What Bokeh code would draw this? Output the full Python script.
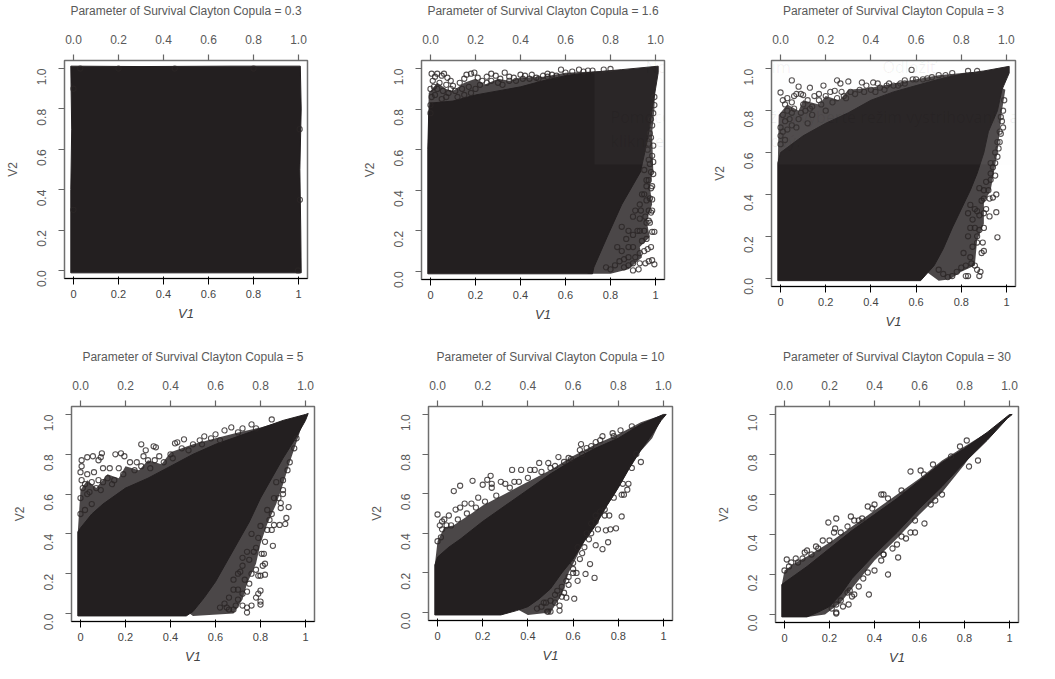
from bokeh.plotting import figure
from bokeh.layouts import column, row
from bokeh.models import FixedTicker, NumeralTickFormatter, BoxAnnotation, Label, LinearAxis
from bokeh.embed import file_html
from bokeh.resources import INLINE
import math

params = ["0.3", "1.6", "3", "5", "10", "30"]
tick_values = [0.0, 0.2, 0.4, 0.6, 0.8, 1.0]
x_name = "V1"
y_name = "V2"

# ---- theta = 0.3
solid1_v1 = [-0.012, -0.012, -0.008, -0.012, 0.3, 0.7, 1.008, 1.012, 1.006, 1.01, 1.012, 0.7, 0.3]
solid1_v2 = [-0.012, 0.4, 0.7, 1.012, 1.01, 1.012, 1.012, 0.8, 0.5, 0.2, -0.012, -0.012, -0.012]
haze1_v1 = []
haze1_v2 = []
pts1_v1 = [0.03, 0.2, 0.45, 0.8, 1.005, 1.006, 0.998, 0.0, 0.0]
pts1_v2 = [1.0, 1.0, 1.0, 1.0, 0.7, 0.35, 0.0, 0.3, 0.9]

# ---- theta = 1.6
solid2_v1 = [-0.012, -0.012, -0.008, 0.0, 0.1, 0.2, 0.3, 0.4, 0.5, 0.6, 0.7, 0.85, 1.012, 1.012, 1.0, 0.985, 0.972, 0.955, 0.933, 0.85, 0.785, 0.726, 0.72]
solid2_v2 = [-0.012, 0.6, 0.78, 0.83, 0.84, 0.87, 0.89, 0.91, 0.94, 0.965, 0.98, 0.995, 1.012, 0.98, 0.9, 0.8, 0.7, 0.6, 0.49, 0.33, 0.17, 0.02, -0.012]
haze2_v1 = [-0.012, -0.008, 0.03, 0.07, 0.1, 0.15, 0.2, 0.24, 0.3, 0.35, 0.4, 0.5, 0.6, 0.7, 0.85, 1.0, 0.995, 0.985, 0.99, 0.975, 0.985, 0.96, 0.975, 0.93, 0.94, 0.88, 0.8, 0.7]
haze2_v2 = [0.6, 0.88, 0.93, 0.9, 0.89, 0.93, 0.95, 0.92, 0.95, 0.94, 0.955, 0.96, 0.98, 0.985, 0.995, 0.95, 0.8, 0.68, 0.5, 0.42, 0.33, 0.25, 0.17, 0.12, 0.07, 0.01, -0.012, -0.012]
pts2_v1 = [0.005, 0.02, 0.03, 0.05, 0.06, 0.075, 0.09, 0.01, 0.04, 0.07, 0.1, 0.13, 0.15, 0.16, 0.18, 0.195, 0.21, 0.23, 0.25, 0.27, 0.29, 0.31, 0.33, 0.35, 0.37, 0.4, 0.42, 0.45, 0.47, 0.5, 0.52, 0.54, 0.58, 0.6, 0.63, 0.66, 0.68, 0.7, 0.72, 0.77, 0.8,
           0.995, 0.985, 0.975, 0.99, 0.985, 0.99, 0.975, 0.98, 0.99, 0.97, 0.98, 0.96, 0.985, 0.975, 0.985, 0.94, 0.96, 0.97, 0.985, 0.98, 0.955, 0.935, 0.93, 0.96, 0.975, 0.985, 0.995, 0.95, 0.92, 0.96, 0.94, 0.98, 0.965, 0.95, 0.93, 0.91, 0.97, 0.985, 0.995, 0.955, 0.93, 0.9, 0.925, 0.88, 0.86, 0.9, 0.87,
           0.0, 0.015, 0.03, 0.055, 0.08, 0.09, 0.11, 0.14, 0.17, 0.2, 0.22, 0.25, 0.27, 0.3, 0.32, 0.35, 0.38, 0.41, 0.44, 0.48, 0.52, 0.56, 0.005, 0.02, 0.05, 0.07, 0.12, 0.15, 0.18, 0.0, 0.0,
           0.93, 0.9, 0.88, 0.86, 0.84, 0.82, 0.8, 0.78, 0.85, 0.83, 0.88, 0.85, 0.9, 0.93, 0.95, 0.96, 0.95, 0.97, 0.965, 0.97, 0.98, 0.98, 0.99, 0.995, 0.97, 0.91, 0.9, 0.88]
pts2_v2 = [0.975, 0.96, 0.975, 0.965, 0.975, 0.955, 0.94, 0.94, 0.93, 0.92, 0.915, 0.93, 0.95, 0.97, 0.975, 0.98, 0.955, 0.94, 0.96, 0.975, 0.965, 0.95, 0.98, 0.96, 0.955, 0.97, 0.965, 0.97, 0.955, 0.965, 0.975, 0.97, 0.995, 0.98, 0.985, 0.995, 0.985, 0.99, 0.99, 0.995, 0.998,
           0.86, 0.72, 0.68, 0.62, 0.57, 0.54, 0.53, 0.49, 0.48, 0.45, 0.41, 0.42, 0.42, 0.36, 0.355, 0.38, 0.35, 0.3, 0.3, 0.29, 0.27, 0.3, 0.26, 0.24, 0.24, 0.195, 0.195, 0.2, 0.2, 0.16, 0.15, 0.12, 0.11, 0.1, 0.09, 0.07, 0.05, 0.055, 0.035, 0.04, 0.04, 0.005, 0.01, 0.03, 0.06, 0.12, 0.16,
           0.9, 0.91, 0.9, 0.89, 0.88, 0.9, 0.89, 0.9, 0.91, 0.9, 0.92, 0.93, 0.94, 0.93, 0.92, 0.94, 0.94, 0.95, 0.95, 0.95, 0.96, 0.965, 0.86, 0.87, 0.85, 0.86, 0.86, 0.87, 0.88, 0.82, 0.78,
           0.2, 0.18, 0.12, 0.02, 0.05, 0.03, 0.01, 0.02, 0.1, 0.12, 0.2, 0.22, 0.27, 0.33, 0.38, 0.45, 0.5, 0.55, 0.6, 0.63, 0.66, 0.75, 0.78, 0.82, 0.25, 0.3, 0.04, 0.07]

# ---- theta = 3
solid3_v1 = [-0.012, -0.012, 0.0, 0.1, 0.2, 0.3, 0.4, 0.5, 0.6, 0.7, 0.8, 0.9, 1.012, 1.012, 0.98, 0.96, 0.92, 0.9, 0.87, 0.84, 0.8, 0.76, 0.72, 0.68, 0.62]
solid3_v2 = [-0.012, 0.55, 0.6, 0.68, 0.74, 0.79, 0.85, 0.89, 0.92, 0.95, 0.975, 0.99, 1.012, 0.98, 0.9, 0.8, 0.7, 0.6, 0.5, 0.42, 0.33, 0.24, 0.14, 0.06, -0.012]
haze3_v1 = [-0.012, -0.008, 0.03, 0.08, 0.1, 0.17, 0.2, 0.26, 0.3, 0.4, 0.5, 0.6, 0.7, 0.85, 0.995, 0.98, 0.97, 0.96, 0.94, 0.93, 0.9, 0.9, 0.87, 0.86, 0.8, 0.75, 0.7]
haze3_v2 = [0.55, 0.78, 0.83, 0.8, 0.85, 0.83, 0.87, 0.85, 0.9, 0.91, 0.93, 0.95, 0.97, 0.985, 0.9, 0.8, 0.7, 0.6, 0.48, 0.42, 0.36, 0.26, 0.18, 0.06, 0.03, -0.005, -0.012]
pts3_v1 = [0.0, 0.05, 0.08, 0.13, 0.19, 0.25, 0.265, 0.3, 0.58, 0.585, 0.36, 0.41, 0.43, 0.48, 0.53, 0.55, 0.65, 0.67, 0.76, 0.83, 0.87, 0.96, 0.955, 0.955, 0.94, 0.925, 0.95, 0.93, 0.91, 0.925, 0.9, 0.895, 0.9, 0.88, 0.885, 0.82, 0.83, 0.87, 0.86, 0.845, 0.89, 0.87, 0.88, 0.86, 0.84, 0.85, 0.87, 0.83, 0.84, 0.89, 0.9, 0.91, 0.98, 0.985, 0.975, 0.97, 0.965, 0.97, 0.96, 0.95, 0.94, 0.93,
           0.01, 0.02, 0.03, 0.05, 0.06, 0.07, 0.09, 0.1, 0.12, 0.15, 0.17, 0.2, 0.22, 0.24, 0.27, 0.29, 0.33, 0.35, 0.38, 0.4, 0.44, 0.46, 0.5, 0.52, 0.01, 0.03, 0.06, 0.1, 0.14, 0.18, 0.25, 0.02, 0.0, 0.04, 0.08, 0.14, 0.2, 0.0, 0.03, 0.07, 0.12,
           0.88, 0.87, 0.85, 0.84, 0.82, 0.8, 0.78, 0.76, 0.74, 0.72, 0.7, 0.9, 0.9, 0.88, 0.93, 0.95, 0.96, 0.975, 0.985, 0.99, 0.92, 0.86, 0.83, 0.81,
           0.05, 0.11, 0.17, 0.23, 0.28, 0.31, 0.37, 0.42, 0.47, 0.55, 0.6, 0.63, 0.7, 0.73, 0.01, 0.0, 0.02, 0.05, 0.09, 0.13]
pts3_v2 = [0.887, 0.945, 0.915, 0.91, 0.92, 0.945, 0.93, 0.94, 0.995, 0.95, 0.935, 0.935, 0.93, 0.93, 0.93, 0.945, 0.955, 0.96, 0.98, 0.99, 0.99, 0.195, 0.315, 0.4, 0.385, 0.38, 0.49, 0.5, 0.33, 0.295, 0.31, 0.17, 0.13, 0.01, 0.03, 0.01, 0.01, 0.04, 0.06, 0.07, 0.12, 0.17, 0.23, 0.24, 0.24, 0.28, 0.32, 0.31, 0.35, 0.37, 0.42, 0.46, 0.75, 0.72, 0.69, 0.65, 0.62, 0.7, 0.58, 0.55, 0.53, 0.47,
           0.85, 0.83, 0.86, 0.84, 0.87, 0.88, 0.88, 0.875, 0.85, 0.87, 0.88, 0.87, 0.89, 0.895, 0.89, 0.86, 0.88, 0.9, 0.92, 0.9, 0.91, 0.9, 0.92, 0.92, 0.78, 0.8, 0.81, 0.83, 0.82, 0.83, 0.86, 0.75, 0.72, 0.76, 0.76, 0.78, 0.8, 0.68, 0.71, 0.72, 0.74,
           0.3, 0.2, 0.15, 0.1, 0.06, 0.05, 0.03, 0.01, 0.005, 0.02, 0.04, 0.24, 0.38, 0.43, 0.55, 0.6, 0.65, 0.77, 0.8, 0.85, 0.42, 0.33, 0.2, 0.12,
           0.79, 0.8, 0.85, 0.84, 0.87, 0.89, 0.89, 0.89, 0.92, 0.93, 0.95, 0.95, 0.97, 0.97, 0.7, 0.64, 0.66, 0.73, 0.79, 0.81]

# ---- theta = 5
solid4_v1 = [-0.012, -0.012, 0.0, 0.05, 0.1, 0.2, 0.3, 0.4, 0.5, 0.6, 0.7, 0.8, 0.9, 1.0, 1.012, 1.0, 0.95, 0.9, 0.85, 0.8, 0.75, 0.7, 0.65, 0.6, 0.55, 0.5, 0.47]
solid4_v2 = [-0.012, 0.41, 0.43, 0.5, 0.55, 0.63, 0.68, 0.74, 0.8, 0.85, 0.89, 0.93, 0.97, 1.0, 1.005, 0.97, 0.87, 0.78, 0.68, 0.58, 0.46, 0.36, 0.26, 0.16, 0.08, 0.01, -0.012]
haze4_v1 = [-0.012, 0.0, 0.03, 0.07, 0.12, 0.17, 0.2, 0.26, 0.3, 0.36, 0.4, 0.5, 0.6, 0.7, 0.8, 1.0, 0.96, 0.93, 0.9, 0.87, 0.83, 0.8, 0.78, 0.74, 0.72, 0.68, 0.5]
haze4_v2 = [0.41, 0.62, 0.67, 0.63, 0.7, 0.68, 0.74, 0.72, 0.77, 0.75, 0.81, 0.85, 0.88, 0.91, 0.935, 1.0, 0.86, 0.76, 0.65, 0.55, 0.45, 0.35, 0.25, 0.15, 0.07, 0.0, -0.012]
pts4_v1 = [0.005, 0.03, 0.055, 0.08, 0.095, 0.09, 0.155, 0.18, 0.195, 0.27, 0.29, 0.325, 0.335, 0.42, 0.43, 0.46, 0.53, 0.55, 0.6, 0.64, 0.67, 0.72, 0.76, 0.85, 0.28, 0.35, 0.4, 0.0, 0.03, 0.06, 0.1, 0.13, 0.17, 0.22, 0.25, 0.005, 0.02, 0.05, 0.08, 0.12, 0.3, 0.33, 0.5, 0.45, 0.58, 0.005,
           0.925, 0.915, 0.89, 0.89, 0.91, 0.885, 0.86, 0.855, 0.815, 0.805, 0.82, 0.81, 0.8, 0.82, 0.79, 0.76, 0.78, 0.8, 0.79, 0.78, 0.8, 0.8, 0.76, 0.74, 0.74, 0.72, 0.74, 0.72, 0.7, 0.73, 0.68, 0.66, 0.65, 0.7, 0.93, 0.95, 0.96, 0.92, 0.9, 0.9, 0.88, 0.85, 0.84, 0.83, 0.79, 0.77, 0.75, 0.71,
           0.01, 0.04, 0.07, 0.1, 0.14, 0.19, 0.24, 0.27, 0.31, 0.37, 0.41, 0.48, 0.54, 0.62, 0.7, 0.78, 0.0, 0.03, 0.09, 0.15, 0.0, 0.02, 0.05,
           0.86, 0.83, 0.85, 0.8, 0.76, 0.78, 0.74, 0.72, 0.7, 0.68, 0.66, 0.72, 0.68, 0.64, 0.62, 0.69, 0.75, 0.87, 0.9, 0.82]
pts4_v2 = [0.77, 0.785, 0.79, 0.77, 0.805, 0.785, 0.8, 0.805, 0.79, 0.85, 0.82, 0.84, 0.835, 0.855, 0.86, 0.875, 0.87, 0.89, 0.9, 0.92, 0.935, 0.93, 0.95, 0.975, 0.79, 0.79, 0.8, 0.71, 0.7, 0.71, 0.73, 0.73, 0.73, 0.76, 0.76, 0.67, 0.65, 0.66, 0.67, 0.68, 0.77, 0.77, 0.85, 0.83, 0.88, 0.74,
           0.535, 0.48, 0.555, 0.53, 0.45, 0.445, 0.445, 0.34, 0.3, 0.3, 0.25, 0.24, 0.19, 0.195, 0.19, 0.2, 0.22, 0.115, 0.1, 0.08, 0.06, 0.045, 0.04, 0.03, 0.005, 0.04, 0.11, 0.1, 0.12, 0.17, 0.02, 0.02, 0.03, 0.07, 0.76, 0.83, 0.88, 0.72, 0.67, 0.62, 0.58, 0.5, 0.47, 0.42, 0.38, 0.31, 0.27, 0.21,
           0.63, 0.61, 0.63, 0.66, 0.65, 0.7, 0.72, 0.74, 0.73, 0.76, 0.78, 0.82, 0.85, 0.87, 0.91, 0.93, 0.58, 0.6, 0.62, 0.67, 0.5, 0.52, 0.55,
           0.58, 0.52, 0.42, 0.44, 0.4, 0.33, 0.31, 0.24, 0.2, 0.12, 0.08, 0.28, 0.17, 0.05, 0.03, 0.04, 0.15, 0.66, 0.6, 0.36]

# ---- theta = 10
solid5_v1 = [-0.012, -0.012, 0.0, 0.05, 0.1, 0.2, 0.3, 0.4, 0.5, 0.6, 0.7, 0.8, 0.9, 1.0, 1.012, 0.99, 0.95, 0.9, 0.85, 0.8, 0.75, 0.7, 0.65, 0.6, 0.55, 0.5, 0.45, 0.4, 0.35, 0.28]
solid5_v2 = [-0.012, 0.24, 0.28, 0.33, 0.37, 0.46, 0.54, 0.62, 0.7, 0.77, 0.83, 0.88, 0.95, 1.0, 1.0, 0.97, 0.9, 0.82, 0.73, 0.63, 0.54, 0.44, 0.36, 0.27, 0.2, 0.12, 0.07, 0.03, 0.01, -0.012]
haze5_v1 = [-0.012, 0.0, 0.03, 0.07, 0.15, 0.2, 0.3, 0.4, 0.5, 0.6, 0.7, 0.8, 0.9, 1.0, 0.95, 0.88, 0.83, 0.78, 0.72, 0.66, 0.62, 0.58, 0.55, 0.5, 0.4]
haze5_v2 = [0.24, 0.36, 0.43, 0.44, 0.5, 0.54, 0.6, 0.66, 0.72, 0.79, 0.85, 0.9, 0.96, 1.0, 0.88, 0.79, 0.69, 0.59, 0.49, 0.39, 0.29, 0.2, 0.09, 0.0, -0.012]
pts5_v1 = [0.0, 0.02, 0.03, 0.05, 0.072, 0.1, 0.155, 0.2, 0.22, 0.235, 0.24, 0.33, 0.37, 0.41, 0.45, 0.49, 0.535, 0.59, 0.63, 0.635, 0.7, 0.73, 0.775, 0.81, 0.86, 0.12, 0.15, 0.18, 0.24, 0.28, 0.3, 0.34, 0.43, 0.5, 0.56, 0.64, 0.68, 0.08, 0.1, 0.04, 0.01, 0.015,
           0.9, 0.88, 0.86, 0.845, 0.84, 0.825, 0.815, 0.815, 0.79, 0.765, 0.745, 0.755, 0.73, 0.7, 0.68, 0.675, 0.695, 0.655, 0.615, 0.6, 0.62, 0.605, 0.57, 0.55, 0.54, 0.54, 0.5, 0.485, 0.49, 0.47, 0.5, 0.52, 0.53, 0.56, 0.58, 0.6, 0.63, 0.65, 0.68, 0.7, 0.72, 0.74, 0.76, 0.82,
           0.06, 0.09, 0.13, 0.17, 0.21, 0.26, 0.32, 0.36, 0.4, 0.46, 0.52, 0.58, 0.66, 0.72, 0.78, 0.0, 0.02,
           0.78, 0.74, 0.7, 0.66, 0.62, 0.6, 0.57, 0.55, 0.52, 0.48, 0.44, 0.46, 0.58, 0.64, 0.67, 0.71]
pts5_v2 = [0.495, 0.46, 0.47, 0.49, 0.613, 0.64, 0.665, 0.645, 0.67, 0.69, 0.65, 0.72, 0.72, 0.72, 0.755, 0.755, 0.785, 0.775, 0.82, 0.85, 0.86, 0.89, 0.905, 0.92, 0.94, 0.55, 0.55, 0.58, 0.63, 0.66, 0.65, 0.66, 0.72, 0.73, 0.76, 0.8, 0.84, 0.52, 0.53, 0.44, 0.44, 0.38,
           0.76, 0.8, 0.73, 0.65, 0.62, 0.595, 0.595, 0.485, 0.425, 0.42, 0.415, 0.355, 0.32, 0.34, 0.45, 0.245, 0.175, 0.195, 0.2, 0.2, 0.16, 0.07, 0.075, 0.08, 0.035, 0.01, 0.005, 0.005, 0.005, 0.05, 0.06, 0.05, 0.11, 0.1, 0.14, 0.25, 0.27, 0.33, 0.4, 0.49, 0.51, 0.49, 0.49, 0.65,
           0.44, 0.47, 0.5, 0.53, 0.56, 0.59, 0.63, 0.66, 0.68, 0.71, 0.74, 0.78, 0.83, 0.87, 0.89, 0.36, 0.42,
           0.58, 0.52, 0.46, 0.4, 0.33, 0.22, 0.16, 0.13, 0.09, 0.05, 0.02, 0.03, 0.18, 0.3, 0.37, 0.42]

# ---- theta = 30
solid6_v1 = [-0.012, -0.012, 0.0, 0.05, 0.1, 0.2, 0.3, 0.4, 0.5, 0.6, 0.7, 0.8, 0.9, 1.0, 1.012, 0.99, 0.9, 0.8, 0.7, 0.6, 0.5, 0.4, 0.3, 0.25, 0.2, 0.15, 0.1]
solid6_v2 = [-0.012, 0.15, 0.16, 0.2, 0.24, 0.33, 0.42, 0.5, 0.58, 0.67, 0.76, 0.83, 0.91, 1.0, 1.0, 0.98, 0.87, 0.76, 0.64, 0.53, 0.41, 0.3, 0.18, 0.1, 0.04, 0.012, -0.012]
haze6_v1 = [-0.012, 0.0, 0.05, 0.1, 0.2, 0.3, 0.4, 0.5, 0.6, 0.7, 0.9, 0.8, 0.7, 0.6, 0.5, 0.4, 0.3, 0.25, 0.18, 0.1]
haze6_v2 = [0.15, 0.22, 0.26, 0.29, 0.36, 0.44, 0.52, 0.6, 0.68, 0.77, 0.91, 0.75, 0.61, 0.5, 0.38, 0.27, 0.13, 0.06, 0.0, -0.012]
pts6_v1 = [0.0, 0.01, 0.03, 0.05, 0.1, 0.09, 0.14, 0.17, 0.195, 0.23, 0.225, 0.22, 0.295, 0.31, 0.345, 0.37, 0.4, 0.43, 0.44, 0.56, 0.605, 0.66, 0.78, 0.81, 0.86, 0.82, 0.7, 0.67, 0.622, 0.58, 0.56, 0.54, 0.5, 0.505, 0.46, 0.375, 0.31, 0.29, 0.285, 0.23, 0.23, 0.21, 0.25, 0.43, 0.4, 0.44, 0.48, 0.35, 0.33, 0.3, 0.26,
           0.02, 0.06, 0.08, 0.12, 0.15, 0.2, 0.25, 0.28, 0.33, 0.39, 0.46, 0.52, 0.62, 0.74, 0.65, 0.58, 0.52, 0.44, 0.37, 0.28, 0.23]
pts6_v2 = [0.22, 0.275, 0.26, 0.28, 0.32, 0.31, 0.34, 0.37, 0.46, 0.48, 0.43, 0.41, 0.49, 0.47, 0.48, 0.54, 0.55, 0.6, 0.6, 0.715, 0.72, 0.75, 0.84, 0.87, 0.77, 0.74, 0.6, 0.57, 0.455, 0.41, 0.41, 0.38, 0.35, 0.285, 0.2, 0.1, 0.1, 0.12, 0.05, 0.005, 0.01, 0.03, 0.07, 0.27, 0.22, 0.3, 0.33, 0.18, 0.14, 0.09, 0.04,
           0.24, 0.26, 0.28, 0.3, 0.33, 0.37, 0.41, 0.44, 0.47, 0.53, 0.58, 0.62, 0.7, 0.79, 0.55, 0.47, 0.39, 0.3, 0.21, 0.11, 0.05]

ghost_title = ["Nástroj", "na vystrihovanie"]
ghost_tools = ["Nový", "Režim", "Odložiť", "Zru"]
ghost_line1 = ["Pomocou", "tlačidla Režim vyberte režim vystrihovania a"]
ghost_line2 = ["kliknite na", "tlačidlo Nový."]

INK = "#231f20"


def panel(theta, solid, haze, pts, left, top, w, h, right, bottom):
    p = figure(width=left + w + right, height=top + h + bottom, output_backend="svg", toolbar_location=None,
               x_range=(-0.04, 1.04), y_range=(-0.04, 1.04), x_axis_label=x_name, y_axis_label=y_name,
               min_border_left=left, min_border_right=right, min_border_top=top, min_border_bottom=bottom,
               background_fill_color=None, border_fill_color=None, frame_align=False, title=None)
    p.grid.visible = False
    p.outline_line_color = "#6f6f6f"
    p.outline_line_width = 1.5
    head = LinearAxis(axis_label=f"Parameter of Survival Clayton Copula = {theta}", ticker=FixedTicker(ticks=[]),
                      axis_line_color=None, major_tick_line_color=None, minor_tick_line_color=None,
                      major_label_text_font_size="0px", major_tick_in=0, major_tick_out=0, major_label_standoff=0,
                      axis_label_standoff=19, axis_label_text_font="Liberation Sans", axis_label_text_font_size="14.5px",
                      axis_label_text_font_style="bold", axis_label_text_color="#333333")
    p.add_layout(head, "above")
    for ax in (p.xaxis[0], p.yaxis[0]):
        ax.ticker = FixedTicker(ticks=tick_values)
        ax.formatter = NumeralTickFormatter(format="0.0")
        ax.axis_line_color = None
        ax.major_tick_in = 0
        ax.major_tick_out = 6
        ax.major_tick_line_color = "#666666"
        ax.major_tick_line_width = 1.2
        ax.minor_tick_line_color = None
        ax.major_label_standoff = 11
        ax.major_label_text_font = "Liberation Sans"
        ax.major_label_text_font_size = "12px"
        ax.major_label_text_color = "#595959"
        ax.axis_label_text_font = "Liberation Sans"
        ax.axis_label_text_font_size = "12px"
        ax.axis_label_text_font_style = "normal"
        ax.axis_label_text_color = "#595959"
        ax.axis_label_standoff = 14
    p.below[0].ticker = FixedTicker(ticks=tick_values)
    p.yaxis[0].major_label_standoff = 17
    p.yaxis[0].axis_label_standoff = 10
    p.yaxis[0].major_label_orientation = math.pi / 2
    if haze[0]:
        p.patch(haze[0], haze[1], fill_color=INK, fill_alpha=0.82, line_color=None)
    p.patch(solid[0], solid[1], fill_color=INK, line_color=INK, line_width=1)
    p.scatter(pts[0], pts[1], marker="circle", size=5.2, fill_color=None, line_color="#2a2626", line_alpha=0.8, line_width=1.1)
    return p


def ghost(p, left, right):
    p.add_layout(BoxAnnotation(left=left, right=right, top=0, bottom=164, left_units="canvas", right_units="canvas",
                               top_units="canvas", bottom_units="canvas", fill_color="#e8e8e8", fill_alpha=0.04,
                               line_color=None, level="overlay"))


def g_text(p, text, x, y, size="16px"):
    p.add_layout(Label(x=x, y=y, x_units="canvas", y_units="canvas", text=text, text_font="Open Sans",
                       text_font_size=size, text_color="#000000", text_alpha=0.06, text_baseline="middle", level="overlay"))


f1 = panel(params[0], (solid1_v1, solid1_v2), (haze1_v1, haze1_v2), (pts1_v1, pts1_v2), 64, 42, 243, 236, 43, 68)
f2 = panel(params[1], (solid2_v1, solid2_v2), (haze2_v1, haze2_v2), (pts2_v1, pts2_v2), 71, 44, 243, 235, 27, 67)
f3 = panel(params[2], (solid3_v1, solid3_v2), (haze3_v1, haze3_v2), (pts3_v1, pts3_v2), 80, 49, 244, 237, 40, 60)
f4 = panel(params[3], (solid4_v1, solid4_v2), (haze4_v1, haze4_v2), (pts4_v1, pts4_v2), 71, 39, 243, 236, 36, 58)
f5 = panel(params[4], (solid5_v1, solid5_v2), (haze5_v1, haze5_v2), (pts5_v1, pts5_v2), 78, 37, 244, 237, 28, 59)
f6 = panel(params[5], (solid6_v1, solid6_v2), (haze6_v1, haze6_v2), (pts6_v1, pts6_v2), 75, 39, 243, 237, 37, 57)

ghost(f2, 244, 341)
ghost(f3, 0, 364)
g_text(f2, ghost_title[0], 284, 14)
g_text(f2, ghost_tools[0], 295, 66)
g_text(f2, ghost_line1[0], 260, 116)
g_text(f2, ghost_line2[0], 260, 140)
g_text(f3, ghost_title[1], 11, 14)
g_text(f3, ghost_tools[1], 54, 66)
g_text(f3, ghost_tools[2], 191, 66)
g_text(f3, ghost_tools[3], 336, 66)
g_text(f3, ghost_line1[1], 2, 116)
g_text(f3, ghost_line2[1], 9, 140)

page = column(row(f1, f2, f3), row(f4, f5, f6))
open("out.html", "w").write(file_html(page, INLINE))
